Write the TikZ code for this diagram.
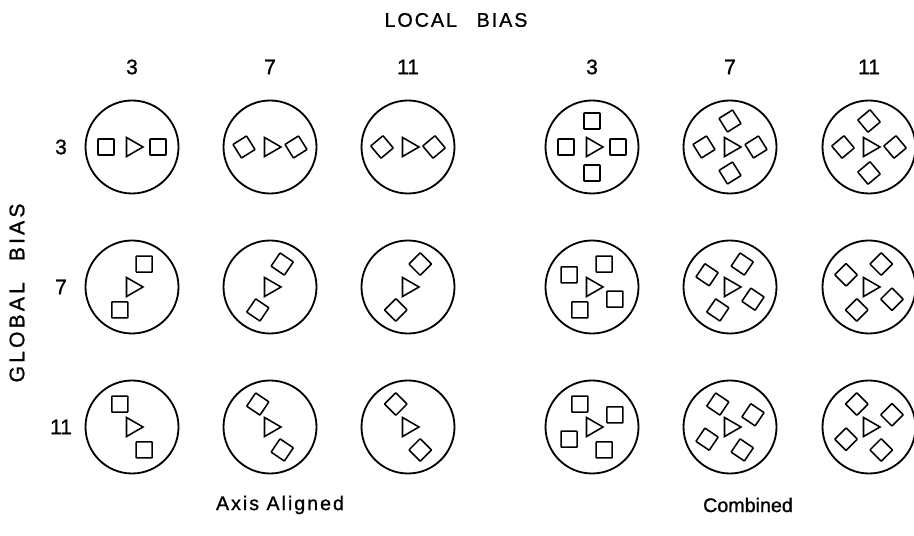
\documentclass[tikz,border=0pt]{standalone}
\usepackage{fontspec}
\setmainfont[FakeBold=1]{Liberation Sans}
\newfontfamily\lbl[LetterSpace=10,FakeBold=1]{Liberation Sans}
\newfontfamily\lblw[LetterSpace=15,FakeBold=1]{Liberation Sans}
\usetikzlibrary{shapes.geometric}
\tikzset{disc/.style={draw,circle,minimum size=23.25mm,inner sep=0pt,line width=1.3pt},
 sq/.style={draw,minimum size=4mm,inner sep=0pt,line width=1.1pt,rounded corners=0.4pt},
 tri/.style={draw,regular polygon,regular polygon sides=3,minimum size=5.5mm,inner sep=0pt,line width=1.1pt,rotate=-90},
 num/.style={font=\fontsize{15}{17}\selectfont,inner sep=0pt},
 lb/.style={font=\lbl\fontsize{14}{16}\selectfont,inner sep=0pt},
 lbw/.style={font=\lblw\fontsize{15}{17}\selectfont,inner sep=0pt}}
\begin{document}
\begin{tikzpicture}[x=0.25mm,y=0.25mm]
\useasboundingbox (0,0) rectangle (914,536);
\node[lb](lt) at (456,516){LOCAL\quad BIAS};\node[lbw,rotate=90](gt) at (17,243){GLOBAL\quad BIAS};
\node[lb](ax) at (280,31){Axis Aligned};\node[num,font=\fontsize{14}{16}\selectfont](cb) at (748,31){Combined};
\foreach \x/\t [count=\i] in {132/3,270/7,408/11,592/3,730/7,869/11}{\node[num](h\i) at (\x,469){\t};}
\foreach \y/\t [count=\i] in {389/3,249/7,109/11}{\node[num](v\i) at (61,\y){\t};}
% rows: global bias turns the layout, columns: local bias turns the squares
\foreach \r/\y/\g/\m/\n in {a/389/0/32/40,b/249/62/-34/45,c/109/118/-34/45}{
 \foreach \c/\x/\l in {1/132/0,2/270/\m,3/408/\n}{
  \node[disc](\r\c) at (\x,\y){};\node[tri](t\r\c) at (\r\c){};
  \node[sq,rotate=\l](p\r\c) at ([shift={(\g:26)}]\r\c){};\node[sq,rotate=\l](q\r\c) at ([shift={({\g+180}:26)}]\r\c){};}
 \foreach \c/\x/\l in {4/592/0,5/730/\m,6/869/\n}{
  \node[disc](\r\c) at (\x,\y){};\node[tri](t\r\c) at (\r\c){};
  \foreach \k in {0,1,2,3}{\node[sq,rotate=\l](s\r\c\k) at ([shift={({\g+90*\k}:26)}]\r\c){};}}}
\end{tikzpicture}
\end{document}
